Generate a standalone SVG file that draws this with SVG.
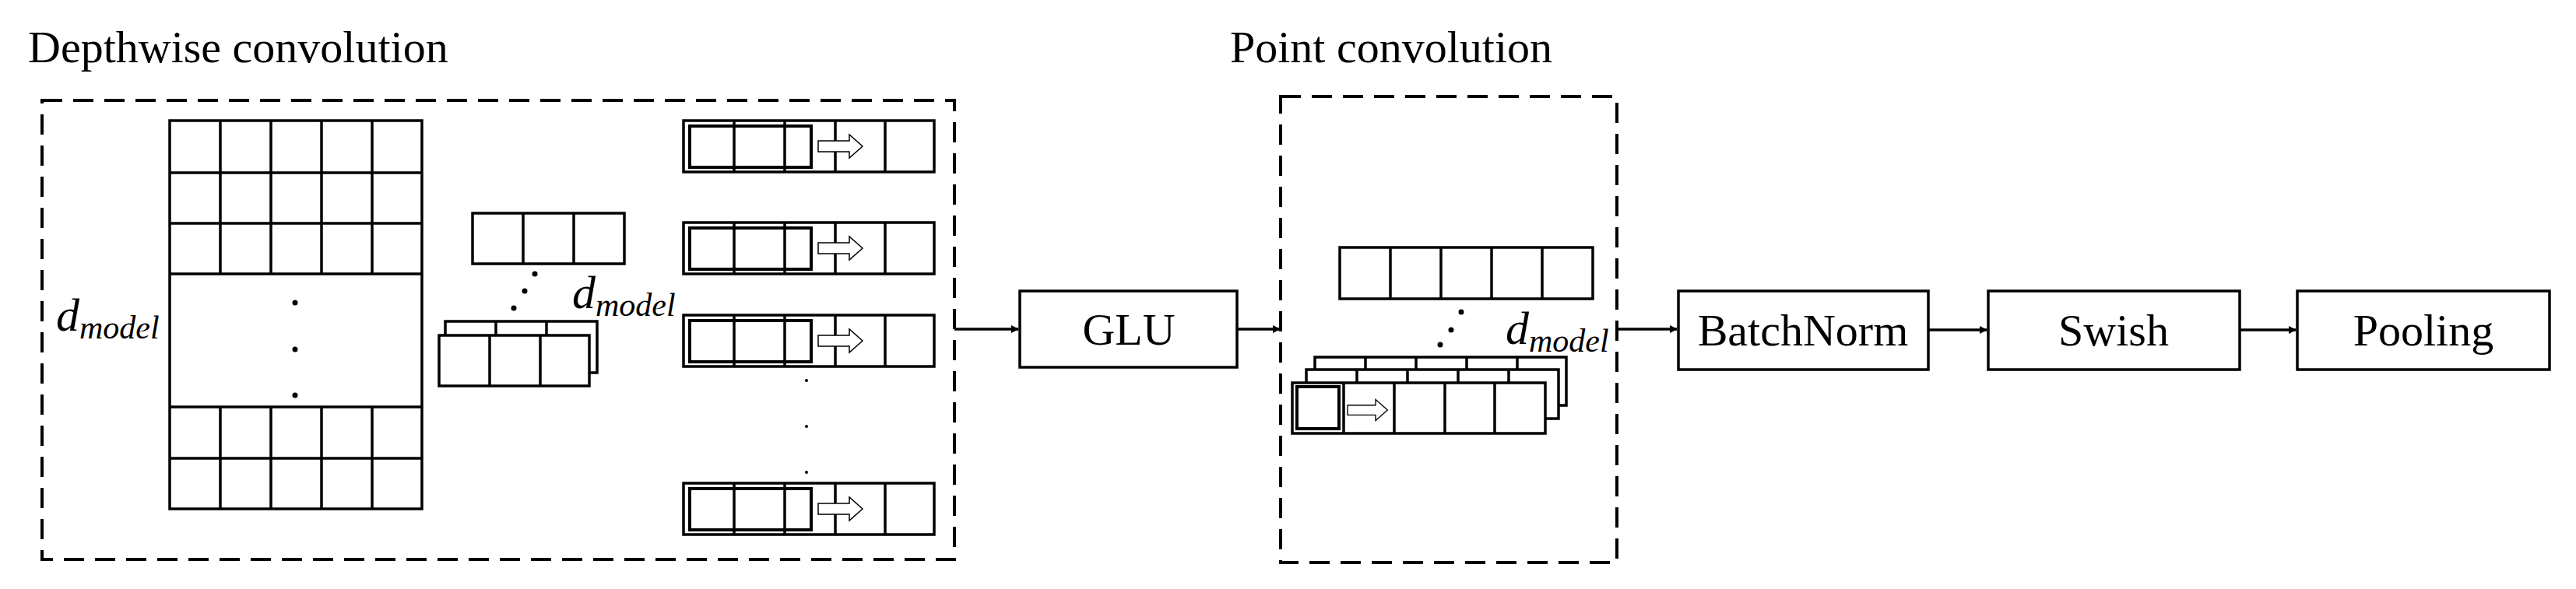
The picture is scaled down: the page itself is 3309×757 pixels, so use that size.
<svg xmlns="http://www.w3.org/2000/svg" width="3309" height="757" viewBox="0 0 3309 757">
<style>
text{font-family:"Liberation Serif","Times New Roman",serif;fill:#000}
.t{font-size:58px}
.lbl{font-size:58px;text-anchor:middle}
.dm{font-size:60px;font-style:italic}
.sub{font-size:42px;font-style:italic}
.c{fill:#fff;stroke:#000;stroke-width:3.5}
.dash{fill:none;stroke:#000;stroke-width:4;stroke-dasharray:26 14}
.ln{stroke:#000;stroke-width:3.5;fill:none}
.ar{fill:#fff;stroke:#000;stroke-width:1.5}
</style>
<defs>
<marker id="ah" markerWidth="10" markerHeight="10" refX="9" refY="5" orient="auto" markerUnits="userSpaceOnUse" viewBox="0 0 10 10"><path d="M0,0 L10,5 L0,10 Z" fill="#000"/></marker>
<g id="cell"><rect class="c" width="65" height="66"/></g>
<path id="harrow" d="M0,-7 H40 V-15 L57,0 L40,15 V7 H0 Z" class="ar"/>
<g id="row5">
<rect class="c" x="0" y="0" width="322" height="66"/>
<path class="ln" d="M65,0V66M130,0V66M195,0V66M259,0V66"/>
<rect class="c" x="8" y="7" width="156" height="53" style="fill:none;stroke-width:4"/>
<use href="#harrow" x="173" y="33"/>
</g>
</defs>

<g id="depthwise">
<text class="t" x="36" y="80">Depthwise convolution</text>
<rect class="dash" x="54" y="129" width="1172" height="590"/>
<g id="grid">
<rect class="c" x="218" y="155" width="324" height="499"/>
<path class="ln" d="M218,222H542M218,287H542M218,352H542M218,523H542M218,589H542M283,155V352M348,155V352M413,155V352M478,155V352M283,523V654M348,523V654M413,523V654M478,523V654"/>
<circle cx="379" cy="389" r="3.5"/><circle cx="379" cy="449" r="3.5"/><circle cx="379" cy="508" r="3.5"/>
</g>
<text x="72" y="425"><tspan class="dm">d</tspan><tspan class="sub" dy="10">model</tspan></text>
<g id="kernels">
<rect class="c" x="607" y="274" width="195" height="65"/>
<path class="ln" d="M672,274V339M737,274V339"/>
<circle cx="687" cy="352" r="3.5"/><circle cx="674" cy="374" r="3.5"/><circle cx="660" cy="396" r="3.5"/>
<text x="735" y="396"><tspan class="dm">d</tspan><tspan class="sub" dy="10">model</tspan></text>
<rect class="c" x="572" y="413" width="195" height="66"/>
<path class="ln" d="M637,413V431M702,413V431"/>
<rect class="c" x="564" y="431" width="193" height="65"/>
<path class="ln" d="M629,431V496M694,431V496"/>
</g>
<g id="rows">
<use href="#row5" x="878" y="155"/>
<use href="#row5" x="878" y="286"/>
<use href="#row5" x="878" y="405"/>
<use href="#row5" x="878" y="621"/>
<circle cx="1036" cy="489" r="2"/><circle cx="1036" cy="548" r="2"/><circle cx="1036" cy="607" r="2"/>
</g>
</g>

<g id="glu">
<rect class="c" x="1310" y="374" width="279" height="98"/>
<text class="lbl" x="1450" y="443">GLU</text>
</g>

<g id="pointconv">
<text class="t" x="1580" y="80">Point convolution</text>
<rect class="dash" x="1645" y="124" width="432" height="599"/>
<rect class="c" x="1721" y="318" width="325" height="66"/>
<path class="ln" d="M1786,318V384M1851,318V384M1916,318V384M1981,318V384"/>
<circle cx="1877" cy="401" r="3.5"/><circle cx="1864" cy="424" r="3.5"/><circle cx="1850" cy="443" r="3.5"/>
<text x="1934" y="442"><tspan class="dm">d</tspan><tspan class="sub" dy="10">model</tspan></text>
<rect class="c" x="1689" y="459" width="323" height="62"/>
<path class="ln" d="M1754,459V475M1819,459V475M1884,459V475M1949,459V475"/>
<rect class="c" x="1678" y="475" width="324" height="63"/>
<path class="ln" d="M1743,475V492M1808,475V492M1873,475V492M1938,475V492"/>
<rect class="c" x="1660" y="492" width="325" height="65"/>
<path class="ln" d="M1726,492V557M1791,492V557M1856,492V557M1920,492V557"/>
<rect x="1666" y="497" width="54" height="54" style="fill:none;stroke:#000;stroke-width:4"/>
<use href="#harrow" x="1731" y="527" transform="translate(1731 527) scale(0.9) translate(-1731 -527)"/>
</g>

<g id="batchnorm">
<rect class="c" x="2156" y="374" width="321" height="101"/>
<text class="lbl" x="2316" y="444">BatchNorm</text>
</g>
<g id="swish">
<rect class="c" x="2554" y="374" width="323" height="101"/>
<text class="lbl" x="2715" y="444">Swish</text>
</g>
<g id="pooling">
<rect class="c" x="2951" y="374" width="324" height="101"/>
<text class="lbl" x="3113" y="444">Pooling</text>
</g>

<g id="connectors" class="ln" marker-end="url(#ah)">
<path class="ln" marker-end="url(#ah)" d="M1226,423H1308"/>
<path class="ln" marker-end="url(#ah)" d="M1589,423H1644"/>
<path class="ln" marker-end="url(#ah)" d="M2077,423H2154"/>
<path class="ln" marker-end="url(#ah)" d="M2477,424H2552"/>
<path class="ln" marker-end="url(#ah)" d="M2877,424H2949"/>
</g>
</svg>
